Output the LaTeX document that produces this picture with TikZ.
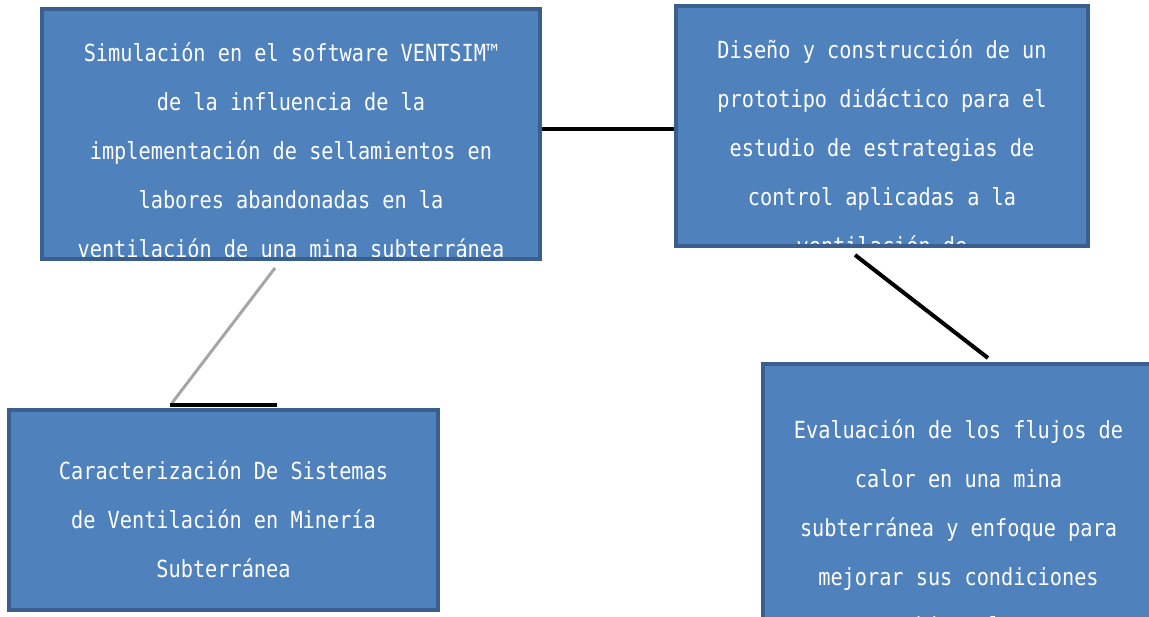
\documentclass[tikz,border=0pt]{standalone}
\usepackage{fontspec}
\setmonofont[FakeStretch=0.86]{DejaVu Sans Mono}
\usetikzlibrary{calc}
\definecolor{boxfill}{HTML}{4F81BD}
\definecolor{boxline}{HTML}{3A5F8E}
\newcommand{\boxfont}{\ttfamily\fontsize{13.4pt}{27.9pt}\selectfont}
\tikzset{
  boxnode/.style={rectangle, draw=boxline, fill=boxfill, line width=0.08cm, inner sep=0pt},
  boxtext/.style={text=white, font=\boxfont, align=center, inner sep=0pt},
  link/.style={line width=0.08cm, black},
}
\begin{document}
\begin{tikzpicture}[x=0.02cm, y=-0.02cm]
\useasboundingbox (0,0) rectangle (1149,617);
\clip (0,0) rectangle (1149,617);
% the four topics
\node[boxnode, minimum width=9.96cm, minimum height=5cm,
  path picture={\node[boxtext] at ($(path picture bounding box.center)+(0,16)$)
  {Simulación en el software VENTSIM™\\de la influencia de la\\implementación de sellamientos en\\labores abandonadas en la\\ventilación de una mina subterránea};}]
  (sim) at (291,134) {};
\node[boxnode, minimum width=8.24cm, minimum height=4.8cm,
  path picture={\node[boxtext] at ($(path picture bounding box.center)+(0,21)$)
  {Diseño y construcción de un\\prototipo didáctico para el\\estudio de estrategias de\\control aplicadas a la\\ventilación de};}]
  (proto) at (882,126) {};
\node[boxnode, minimum width=8.58cm, minimum height=4cm,
  path picture={\node[boxtext] at ($(path picture bounding box.center)+(0,9)$)
  {Caracterización De Sistemas\\de Ventilación en Minería\\Subterránea};}]
  (carac) at (223.5,510) {};
\node[boxnode, minimum width=8.1cm, minimum height=5.88cm,
  path picture={\node[boxtext] at ($(path picture bounding box.center)+(-7,16)$)
  {Evaluación de los flujos de\\calor en una mina\\subterránea y enfoque para\\mejorar sus condiciones\\ambientales};}]
  (calor) at (965.5,511) {};
% links
\coordinate (ab) at (0,129);
\draw[link] (sim.east |- ab) -- (proto.west |- ab);
\draw[line width=0.06cm, gray!70] ($(sim.south)+(-16,7)$) -- ($(carac.north)+(-51.5,-5)$);
\draw[link] ($(carac.north)+(-53.5,-3)$) -- ($(carac.north)+(53.5,-3)$);
\draw[link] ($(proto.south)+(-27,7)$) -- ($(calor.north)+(22.5,-4)$);
\end{tikzpicture}
\end{document}
